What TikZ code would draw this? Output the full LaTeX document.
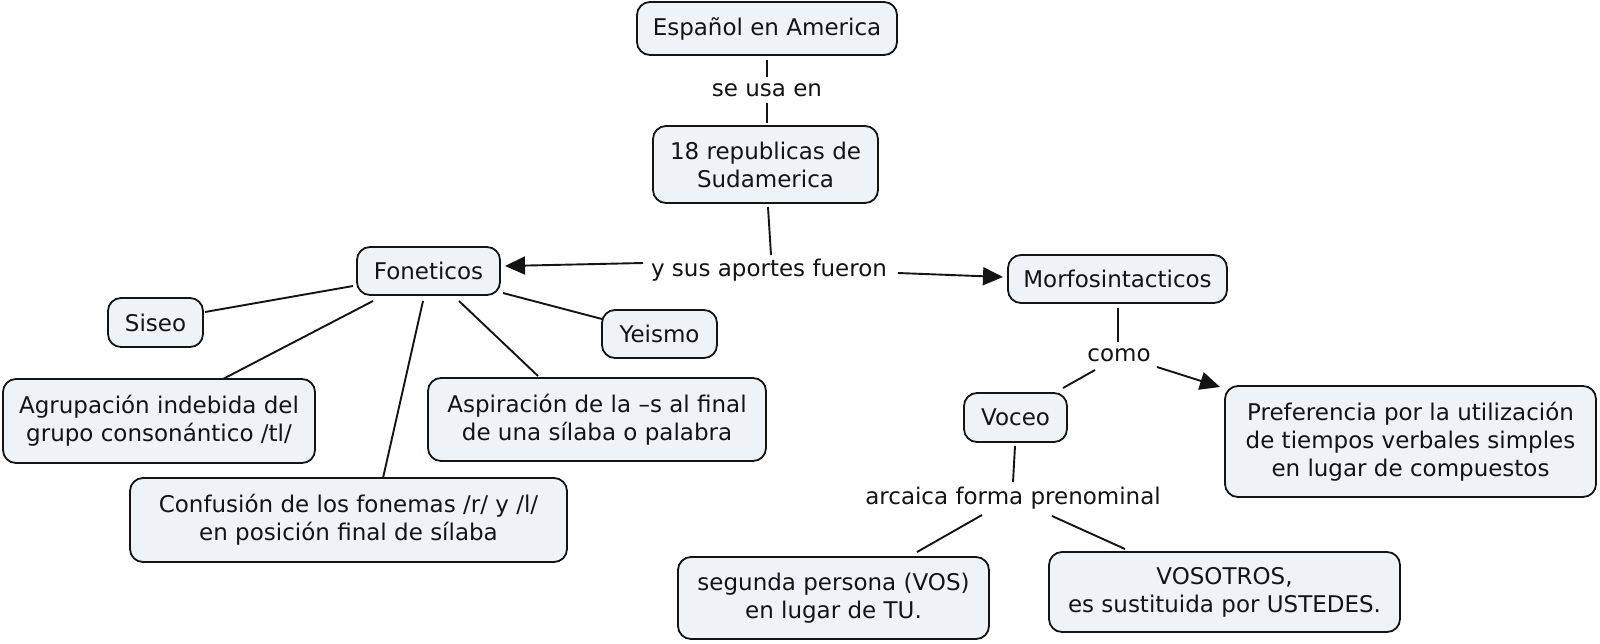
\documentclass[tikz,border=0pt]{standalone}
\usepackage{fontspec}
\setmainfont{DejaVu Sans}
\usetikzlibrary{arrows.meta,calc}
\definecolor{boxfill}{RGB}{237,243,246}
\definecolor{ink}{RGB}{20,20,20}
\begin{document}
\begin{tikzpicture}[x=0.5pt,y=-0.5pt,
 concept/.style={draw=ink, line width=0.9pt, fill=boxfill, rounded corners=6.5pt, align=center, inner sep=0pt, text=ink, font=\fontsize{11.5}{14}\selectfont},
 linklabel/.style={inner sep=3pt, align=center, text=ink, font=\fontsize{11.5}{14}\selectfont},
 conn/.style={draw=ink, line width=0.95pt},
 arr/.style={conn, -{Triangle[length=10pt,width=9pt]}}]
\useasboundingbox[fill=white] (0,0) rectangle (1600,643);
% concepts
\node[concept, minimum width=130pt, minimum height=26.5pt] (esp) at (767,28.5) {Español en America};
\node[concept, minimum width=112.5pt, minimum height=38.5pt] (rep) at (765.5,164.5) {18 republicas de\\Sudamerica};
\node[concept, minimum width=71.5pt, minimum height=24pt] (fon) at (428.5,271) {Foneticos};
\node[concept, minimum width=109.5pt, minimum height=24pt] (mor) at (1117.5,279) {Morfosintacticos};
\node[concept, minimum width=47.5pt, minimum height=24.5pt] (sis) at (155.5,322.5) {Siseo};
\node[concept, minimum width=57.5pt, minimum height=24pt] (yei) at (659.5,334) {Yeismo};
\node[concept, minimum width=156pt, minimum height=42pt] (agr) at (159,421) {Agrupación indebida del\\grupo consonántico /tl/};
\node[concept, minimum width=169pt, minimum height=41.5pt] (asp) at (597,419.5) {Aspiración de la –s al final\\de una sílaba o palabra};
\node[concept, minimum width=218.5pt, minimum height=42pt] (con) at (348.5,520) {Confusión de los fonemas /r/ y /l/\\en posición final de sílaba};
\node[concept, minimum width=51.5pt, minimum height=24.5pt] (voc) at (1015.5,417.5) {Voceo};
\node[concept, minimum width=185.5pt, minimum height=55.5pt] (pre) at (1410.5,441.5) {Preferencia por la utilización\\de tiempos verbales simples\\en lugar de compuestos};
\node[concept, minimum width=155.5pt, minimum height=41pt] (seg) at (833.5,598) {segunda persona (VOS)\\en lugar de TU.};
\node[concept, minimum width=175.5pt, minimum height=40pt] (vos) at (1224.5,592) {VOSOTROS,\\es sustituida por USTEDES.};
% linking phrases
\node[linklabel] (l1) at (767,90) {se usa en};
\node[linklabel] (l2) at (769,270) {y sus aportes fueron};
\node[linklabel] (l3) at (1119,355) {como};
\node[linklabel] (l4) at (1013,498) {arcaica forma prenominal};
% connectors
\draw[conn] ($(esp)+(0,31.5)$) -- ($(l1)+(0,-13)$);
\draw[conn] ($(l1)+(0,13)$) -- ($(rep)+(1.5,-41.5)$);
\draw[conn] ($(rep)+(2.5,42.5)$) -- ($(l2)+(2,-15)$);
\draw[arr] ($(l2)+(-126,-7)$) -- ($(fon)+(76.5,-5)$);
\draw[arr] ($(l2)+(129,3)$) -- ($(mor)+(-114.5,-2)$);
\draw[conn] ($(fon)+(-75.5,15)$) -- ($(sis)+(49.5,-10.5)$);
\draw[conn] ($(fon)+(-55.5,30)$) -- ($(agr)+(64,-42)$);
\draw[conn] ($(fon)+(-5.5,30)$) -- ($(con)+(34.5,-42)$);
\draw[conn] ($(fon)+(30.5,30)$) -- ($(asp)+(-59,-43.5)$);
\draw[conn] ($(fon)+(74.5,22)$) -- ($(yei)+(-57.5,-15)$);
\draw[conn] ($(mor)+(0.5,29)$) -- ($(l3)+(-1,-13)$);
\draw[conn] ($(l3)+(-24,15)$) -- ($(voc)+(47.5,-29.5)$);
\draw[arr] ($(l3)+(38,12)$) -- ($(pre)+(-190.5,-54.5)$);
\draw[conn] ($(voc)+(-0.5,28.5)$) -- ($(l4)+(0,-16)$);
\draw[conn] ($(l4)+(-31,17)$) -- ($(seg)+(83.5,-46)$);
\draw[conn] ($(l4)+(39,18)$) -- ($(vos)+(-99.5,-43)$);
\end{tikzpicture}
\end{document}
